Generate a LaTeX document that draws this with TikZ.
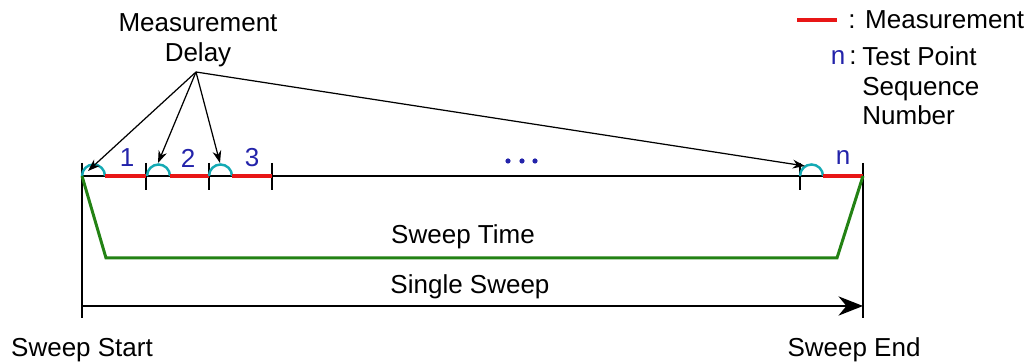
\documentclass[tikz,border=0pt]{standalone}
\usepackage{fontspec}
\setmainfont{Liberation Sans}
\usepackage{tikz}
\usetikzlibrary{positioning, arrows.meta, calc}

\definecolor{measred}{RGB}{232,22,22}
\definecolor{delaycyan}{RGB}{20,170,180}
\definecolor{seqblue}{RGB}{35,35,170}
\definecolor{sweepgreen}{RGB}{35,130,20}

\begin{document}
\begin{tikzpicture}[
        x=0.02cm, y=0.02cm,
        label/.style={font=\fontsize{14.8}{17}\selectfont, inner sep=0pt, align=center},
        seqnum/.style={font=\fontsize{14.8}{17}\selectfont, text=seqblue, inner sep=0pt},
        axis/.style={line width=0.85pt, black},
        meas/.style={line width=2.8pt, measred},
        delay/.style={line width=1.4pt, delaycyan},
        pointer/.style={line width=0.7pt, -{Stealth[length=7pt, width=5pt]}}
    ]
    \useasboundingbox (0,0) rectangle (1028,364);

    % Time axis and ticks
    \coordinate (start) at (82,188);
    \coordinate (stop) at (863,188);
    \draw[axis] (start) -- (stop);
    \foreach \x in {146, 209, 272, 800} {
        \draw[axis] (\x,201) -- (\x,174);
    }
    \draw[axis] (82,201) -- (82,46);
    \draw[axis] (863,201) -- (863,46);

    % Delay arcs and measurement bars
    \foreach \x/\e/\name in {82/146/a, 147/209/b, 209/272/c, 800/863/d} {
        \draw[delay] (\x,188) arc[start angle=180, end angle=0, radius=11.5];
        \draw[meas] (\x+23,188) -- (\e,188);
        \coordinate (top\name) at (\x+11.5,199.5);
    }

    % Sequence numbers
    \node[seqnum] (n1) at (127,206) {1};
    \node[seqnum] (n2) at (188,206) {2};
    \node[seqnum] (n3) at (252,206) {3};
    \foreach \x in {508, 522, 535} {
        \fill[seqblue] (\x,203) circle[radius=2.6];
    }
    \node[seqnum] (nn) at (843,206) {n};

    % Measurement delay pointers
    \node[label] (delay) at (198,324) {Measurement\\Delay};
    \coordinate (hub) at (196,292);
    \draw[pointer] (hub) -- (88,193);
    \draw[pointer] (hub) -- (158,201);
    \draw[pointer] (hub) -- (220,201);
    \draw[pointer] (hub) -- (805,198);

    % Sweep time trace
    \draw[line width=1.7pt, sweepgreen, line join=miter] (start) -- (106,106) -- (837,106) -- (stop);
    \node[label] (sweeptime) at (463,127) {Sweep Time};

    % Single sweep
    \coordinate (ssL) at (82,58);
    \coordinate (ssR) at (863,58);
    \draw[axis, -{Stealth[length=14pt, width=11pt]}] (ssL) -- (ssR);
    \node[label] (single) at (470,77) {Single Sweep};
    \node[label] (sstart) at (82,14) {Sweep Start};
    \node[label] (send) at (854,14) {Sweep End};

    % Legend
    \draw[meas] (797,344) -- (837,344);
    \node[label, anchor=west] (legmeas) at (848,344) {: Measurement};
    \node[seqnum] (legn) at (838,306) {n};
    \node[label] (legcolon) at (853,306) {:};
    \node[label, anchor=north west, align=left] (legseq) at (862,318) {Test Point\\Sequence\\Number};
\end{tikzpicture}
\end{document}
